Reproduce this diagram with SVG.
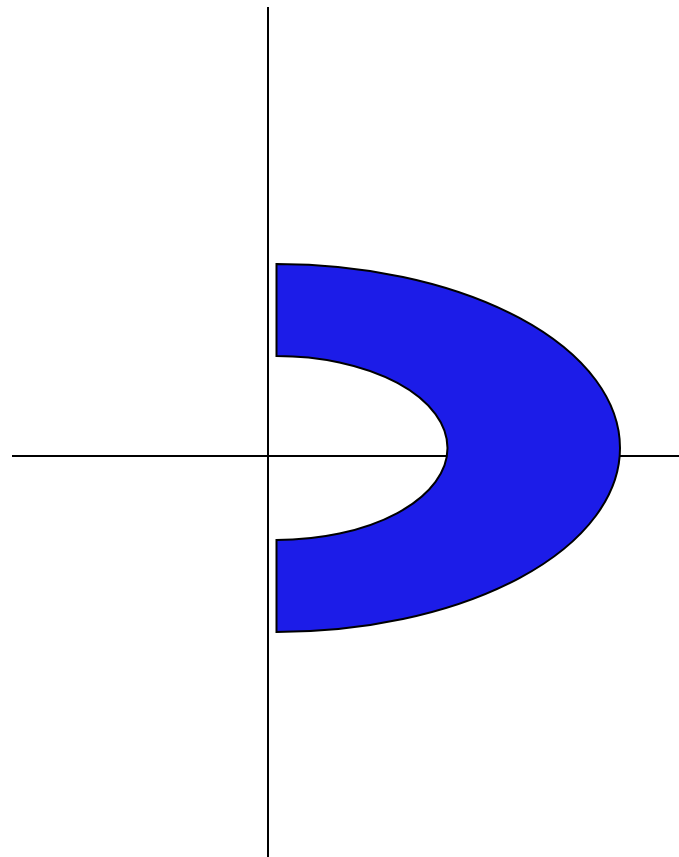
<svg xmlns="http://www.w3.org/2000/svg" width="679" height="857" viewBox="0 0 679 857">
<style>
.axis{stroke:#000;stroke-width:2;fill:none}
.shape{fill:#1c1ce8;stroke:#000;stroke-width:2;stroke-linejoin:miter}
</style>
<rect width="679" height="857" fill="#fff"/>
<g id="axes">
<line class="axis" x1="268" y1="7" x2="268" y2="857"/>
<line class="axis" x1="12" y1="456" x2="679" y2="456"/>
</g>
<g id="ring">
<path class="shape" d="M276.5,264 A343.5,184 0 0 1 276.5,632 L276.5,540 A171,92 0 0 0 276.5,356 Z"/>
</g>
</svg>
